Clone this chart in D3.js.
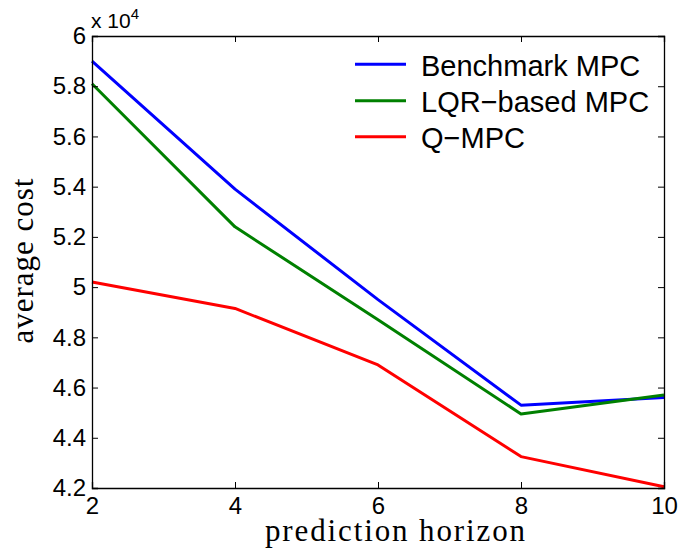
<!DOCTYPE html>
<html>
<head>
<meta charset="utf-8">
<script src="https://cdn.jsdelivr.net/npm/d3@7"></script>
<style>
  html, body { margin: 0; padding: 0; background: #fff; }
  svg { display: block; }
</style>
</head>
<body>
<svg id="chart" width="678" height="548"></svg>
<script>
// Prediction horizons (x) and average cost of each controller
const horizons = [2, 4, 6, 8, 10];
const benchmarkMPC = [59000, 53900, 49500, 45300, 45600];
const lqrMPC = [58100, 52400, 48700, 44950, 45700];
const qMPC = [50200, 49150, 46900, 43250, 42050];

const seriesNames = ["Benchmark MPC", "LQR\u2212based MPC", "Q\u2212MPC"];
const seriesColors = ["#0000ff", "#008000", "#ff0000"];
const seriesValues = [benchmarkMPC, lqrMPC, qMPC];

const yTicks = [42000, 44000, 46000, 48000, 50000, 52000, 54000, 56000, 58000, 60000];
const xTicks = [2, 4, 6, 8, 10];

const svg = d3.select("#chart");
const plotLeft = 92, plotRight = 664, plotTop = 36, plotBottom = 488;

const x = d3.scaleLinear().domain([2, 10]).range([plotLeft, plotRight]);
const y = d3.scaleLinear().domain([42000, 60000]).range([plotBottom, plotTop]);

const sans = "'Liberation Sans', Arial, Helvetica, sans-serif";
const serif = "'Liberation Serif', 'Times New Roman', serif";

// Series lines
const line = d3.line().x((d, i) => x(horizons[i])).y(d => y(d));
const lines = svg.append("g");
seriesValues.forEach((vals, k) => {
  lines.append("path")
    .attr("d", line(vals))
    .attr("fill", "none")
    .attr("stroke", seriesColors[k])
    .attr("stroke-width", 3)
    .attr("stroke-linejoin", "round");
});

// Axes with inward ticks on all four sides
const tickLen = 6;
const fmtY = d => { const v = d / 1e4; return Number.isInteger(v) ? String(v) : v.toFixed(1); };

const leftAxis = svg.append("g").attr("transform", `translate(${plotLeft},0)`)
  .call(d3.axisLeft(y).tickValues(yTicks).tickSize(-tickLen).tickPadding(6).tickFormat(fmtY));
const rightAxis = svg.append("g").attr("transform", `translate(${plotRight},0)`)
  .call(d3.axisRight(y).tickValues(yTicks).tickSize(-tickLen).tickFormat(""));
const bottomAxis = svg.append("g").attr("transform", `translate(0,${plotBottom})`)
  .call(d3.axisBottom(x).tickValues(xTicks).tickSize(-tickLen).tickPadding(9).tickFormat(d3.format("d")));
const topAxis = svg.append("g").attr("transform", `translate(0,${plotTop})`)
  .call(d3.axisTop(x).tickValues(xTicks).tickSize(-tickLen).tickFormat(""));

[leftAxis, rightAxis, bottomAxis, topAxis].forEach(g => {
  g.select(".domain").attr("stroke", "#000").attr("stroke-width", 1.3);
  g.selectAll(".tick line").attr("stroke", "#000").attr("stroke-width", 1);
  g.selectAll(".tick text").attr("fill", "#000")
    .style("font-family", sans).style("font-size", "24px");
});

// Exponent label above the y axis
const expo = svg.append("text")
  .attr("x", 91).attr("y", 28)
  .style("font-family", sans).style("font-size", "21px").attr("fill", "#000");
expo.append("tspan").text("x 10");
expo.append("tspan").attr("dy", -9).style("font-size", "15px").text("4");

// Axis titles
svg.append("text")
  .attr("x", 395).attr("y", 541)
  .attr("text-anchor", "middle")
  .attr("textLength", 260).attr("lengthAdjust", "spacing")
  .style("font-family", serif).style("font-size", "31px")
  .attr("fill", "#000")
  .text("prediction horizon");

svg.append("text")
  .attr("transform", "translate(33,261) rotate(-90)")
  .attr("text-anchor", "middle")
  .attr("textLength", 165).attr("lengthAdjust", "spacing")
  .style("font-family", serif).style("font-size", "31px")
  .attr("fill", "#000")
  .text("average cost");

// Legend
const legend = svg.append("g");
const legendY = [64.3, 100.7, 136.7];
seriesNames.forEach((name, k) => {
  legend.append("line")
    .attr("x1", 355).attr("x2", 406)
    .attr("y1", legendY[k]).attr("y2", legendY[k])
    .attr("stroke", seriesColors[k]).attr("stroke-width", 3);
  legend.append("text")
    .attr("x", 421).attr("y", legendY[k] + 11.2)
    .style("font-family", sans).style("font-size", "29px")
    .attr("fill", "#000")
    .text(name);
});
</script>
</body>
</html>
